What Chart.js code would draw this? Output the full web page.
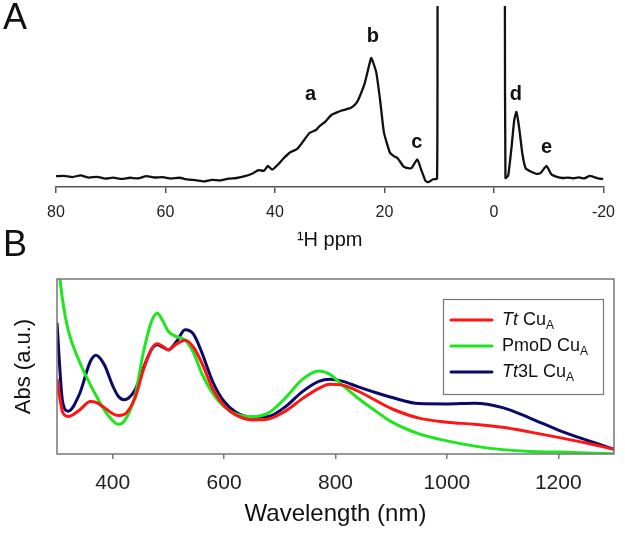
<!DOCTYPE html>
<html>
<head>
<meta charset="utf-8">
<script src="https://cdn.jsdelivr.net/npm/chart.js@4.4.0/dist/chart.umd.min.js"></script>
<style>
  body { margin: 0; background: #fff; }
  #wrap { position: relative; width: 625px; height: 534px; font-family: "Liberation Sans", Arial, sans-serif; }
  .panel-letter { position: absolute; left: 3px; font-size: 36px; line-height: 36px; color: #111; }
  #boxA { position: absolute; left: 0; top: 0; width: 625px; height: 260px; }
  #boxB { position: absolute; left: 0; top: 260px; width: 625px; height: 274px; }
</style>
</head>
<body>
<div id="wrap">
  <div id="boxA"><canvas id="nmr" width="625" height="260"></canvas></div>
  <div id="boxB"><canvas id="uvvis" width="625" height="274"></canvas></div>
  <div class="panel-letter" style="top:-1px">A</div>
  <div class="panel-letter" style="top:226px">B</div>
</div>
<script>
const FONT = '"Liberation Sans", Arial, sans-serif';

// Panel A: 1H NMR spectrum (ppm, arbitrary intensity; null = cut solvent region)
const nmrPpm = [80, 78.5, 77, 75.5, 74, 72.5, 71, 69.5, 68, 66.5, 65, 63.5, 62, 60.5, 59, 57.5,
  56, 54.5, 53, 51.5, 50, 48.5, 47, 45.5, 44, 43, 42, 41.3, 40.5, 39.5, 38.3, 37.2, 36, 35.1,
  33.7, 32.5, 31.9, 30.8, 29.7, 28.5, 27.6, 26.1, 25.2, 24.7, 23.6, 22.9, 22.4, 21.5, 20.8,
  20.1, 19.0, 18.2, 17.6, 16.5, 15.5, 15, 14, 13.3, 12.5, 12, 11.1, 10.4, 10.3, 4,
  -2.0, -2.1, -2.6, -3.2, -3.7, -4.1, -4.6, -5.2, -5.8, -6.9, -7.8, -8.5, -9.6, -10.5, -11.5,
  -12.5, -13.5, -14.5, -15.5, -16.5, -17.5, -18.3, -19.2, -20];
const nmrIntensity = [1.5, 1.8, 0.8, 2.2, 0.3, 1, -0.5, 0.3, -0.8, 0.2, -0.3, 1.6, 0.4, 0.8, -0.5, 0.2,
  -1.2, -1.8, -2.8, -1.5, -2, -0.5, 0, 1.5, 4, 6.5, 6, 10, 7, 11, 17, 21.5, 24, 29,
  37.5, 40, 43, 47, 52.5, 55, 56.5, 58.5, 62, 66, 79, 92, 100, 88, 65,
  38, 21, 18, 16.5, 9.5, 8, 8.5, 15.5, 7, -2.5, -3.5, -1, -0.5, 143.3, null,
  143.3, 0, 2, 25, 48, 55, 42, 20, 8, 5, 3.5, 4, 10, 3, 1,
  0, 0.3, -0.3, 0.5, -0.3, 1.7, 0.8, -0.5, -0.8];
const ppmTicks = [80, 60, 40, 20, 0, -20];
const peakNames = ["a", "b", "c", "d", "e"];
const peakPpm = [33.5, 22.1, 14.1, -4.0, -9.6];
const peakHeight = [65, 113.6, 25, 65, 20.8];

// Panel B: UV-vis spectra
const wavelength = [300, 310, 320, 340, 360, 370, 385, 400, 410, 420, 440, 455, 470, 480, 490, 500,
  515, 530, 545, 560, 580, 600, 620, 650, 680, 710, 740, 770, 790, 810, 840, 870, 900, 950,
  1000, 1050, 1100, 1150, 1200, 1250, 1300];
const absTt = [43, 24, 21.5, 25, 30, 29.5, 26.5, 23, 22, 22.5, 32, 48, 60, 63, 61.5, 59.5,
  63, 65, 61, 52, 37, 27.5, 22.5, 19.5, 20, 24.5, 31.5, 37.5, 39.8, 39.5, 36, 31, 26, 20.5,
  18.2, 17, 15.3, 12.5, 9.5, 6.3, 2.7];
const absPmoD = [115, 88, 71, 53, 39.5, 33.5, 25, 19, 17, 18.5, 33, 58, 76, 80.5, 76, 70,
  67, 65, 58, 46, 34.5, 27, 23, 21.3, 23.5, 32, 42.5, 47.5, 45.5, 40, 32, 25, 18.5, 11.5,
  7.5, 4.5, 2.5, 1.4, 1.1, 0.6, 0.2];
const absTt3L = [75, 30, 24.5, 34, 53, 56.5, 51, 39, 33, 31, 36.6, 49, 60, 62.5, 61, 59.5,
  64.5, 71, 68.5, 58, 41, 30, 24.2, 21, 21.5, 27, 35.5, 41.5, 42.7, 41.8, 38.5, 35.3, 32.4, 28.8,
  28.6, 29, 26.5, 20.4, 13.7, 8, 2.7];
const nmTicks = [400, 600, 800, 1000, 1200];
const seriesColors = ["#ff1414", "#1ee61e", "#0a0a66"];
// legend text pieces: [text, style] with i = italic, n = normal, s = subscript
const seriesLabels = [
  [["Tt", "i"], [" Cu", "n"], ["A", "s"]],
  [["PmoD Cu", "n"], ["A", "s"]],
  [["Tt", "i"], ["3L Cu", "n"], ["A", "s"]]
];

// Peak letters on the NMR spectrum
const peakLabelPlugin = {
  id: "peakLabels",
  afterDatasetsDraw(chart) {
    const { ctx, scales: { x, y } } = chart;
    ctx.save();
    ctx.font = "bold 20px " + FONT;
    ctx.fillStyle = "#111";
    ctx.textAlign = "center";
    ctx.textBaseline = "alphabetic";
    peakNames.forEach((name, i) => {
      ctx.fillText(name, x.getPixelForValue(peakPpm[i]), y.getPixelForValue(peakHeight[i]));
    });
    ctx.restore();
  }
};

new Chart(document.getElementById("nmr"), {
  type: "line",
  data: {
    datasets: [{
      data: nmrPpm.map((p, i) => ({ x: p, y: nmrIntensity[i] })),
      borderColor: "#111",
      borderWidth: 2.3,
      pointRadius: 0,
      tension: 0.15,
      spanGaps: false
    }]
  },
  options: {
    responsive: false,
    animation: false,
    layout: { padding: { left: 56, right: 16, top: 6, bottom: 0 } },
    plugins: { legend: { display: false }, tooltip: { enabled: false } },
    scales: {
      x: {
        type: "linear", reverse: true, min: -20, max: 80,
        afterBuildTicks: s => { s.ticks = ppmTicks.map(v => ({ value: v })); },
        afterFit: s => { s.height = 73; },
        grid: { drawOnChartArea: false, drawTicks: true, tickLength: 6, color: "#555", lineWidth: 1.5 },
        border: { display: true, color: "#555", width: 1.5 },
        ticks: { padding: 10, color: "#222", maxRotation: 0, font: { family: FONT, size: 16 },
          callback: v => String(v) },
        title: { display: true, text: "¹H ppm", color: "#111", font: { family: FONT, size: 20 },
          padding: { top: 0, bottom: 8 } }
      },
      y: { display: false, min: -7.5, max: 143.3 }
    }
  },
  plugins: [peakLabelPlugin]
});

// Frame around the UV-vis plot and the legend with italic/subscript text
const framePlugin = {
  id: "frame",
  afterDatasetsDraw(chart) {
    const { ctx, chartArea: a } = chart;
    ctx.save();
    ctx.strokeStyle = "#777";
    ctx.lineWidth = 1.5;
    ctx.strokeRect(a.left, a.top, a.width, a.height);
    ctx.restore();
  }
};

const richLegendPlugin = {
  id: "richLegend",
  afterDraw(chart) {
    const { ctx } = chart;
    ctx.save();
    ctx.fillStyle = "#fff";
    ctx.fillRect(443.5, 39.5, 160, 95);
    ctx.strokeStyle = "#777";
    ctx.lineWidth = 1.2;
    ctx.strokeRect(443.5, 39.5, 160, 95);
    seriesLabels.forEach((parts, i) => {
      const ly = 60 + i * 26;
      ctx.strokeStyle = seriesColors[i];
      ctx.lineWidth = 3;
      ctx.lineCap = "round";
      ctx.beginPath();
      ctx.moveTo(451, ly);
      ctx.lineTo(492, ly);
      ctx.stroke();
      let tx = 502;
      ctx.fillStyle = "#111";
      ctx.textBaseline = "middle";
      parts.forEach(([t, st]) => {
        let dy = 0;
        if (st === "i") ctx.font = "italic 18px " + FONT;
        else if (st === "s") { ctx.font = "12px " + FONT; dy = 6; }
        else ctx.font = "18px " + FONT;
        ctx.fillText(t, tx, ly + dy);
        tx += ctx.measureText(t).width;
      });
    });
    ctx.restore();
  }
};

const seriesData = [absTt, absPmoD, absTt3L];

new Chart(document.getElementById("uvvis"), {
  type: "line",
  data: {
    datasets: seriesData.map((vals, i) => ({
      data: wavelength.map((w, j) => ({ x: w, y: vals[j] })),
      borderColor: seriesColors[i],
      borderWidth: 3,
      pointRadius: 0,
      cubicInterpolationMode: "monotone"
    }))
  },
  options: {
    responsive: false,
    animation: false,
    layout: { padding: { left: 0, right: 11, top: 19, bottom: 0 } },
    plugins: { legend: { display: false }, tooltip: { enabled: false } },
    scales: {
      x: {
        type: "linear", min: 300, max: 1300,
        afterBuildTicks: s => { s.ticks = nmTicks.map(v => ({ value: v })); },
        afterFit: s => { s.height = 80; },
        grid: { drawOnChartArea: false, drawTicks: true, tickLength: 5, color: "#777", lineWidth: 1.5 },
        border: { display: false },
        ticks: { padding: 12, color: "#222", maxRotation: 0, font: { family: FONT, size: 21 },
          callback: v => String(v) },
        title: { display: true, text: "Wavelength (nm)", color: "#111", font: { family: FONT, size: 24 },
          padding: { top: 0, bottom: 5 } }
      },
      y: {
        min: 0, max: 100,
        afterFit: s => { s.width = 57; },
        grid: { display: false },
        border: { display: false },
        ticks: { display: false },
        title: { display: true, text: "Abs (a.u.)", color: "#111", font: { family: FONT, size: 22 },
          padding: { top: 11, bottom: 0 } }
      }
    }
  },
  plugins: [framePlugin, richLegendPlugin]
});
</script>
</body>
</html>
